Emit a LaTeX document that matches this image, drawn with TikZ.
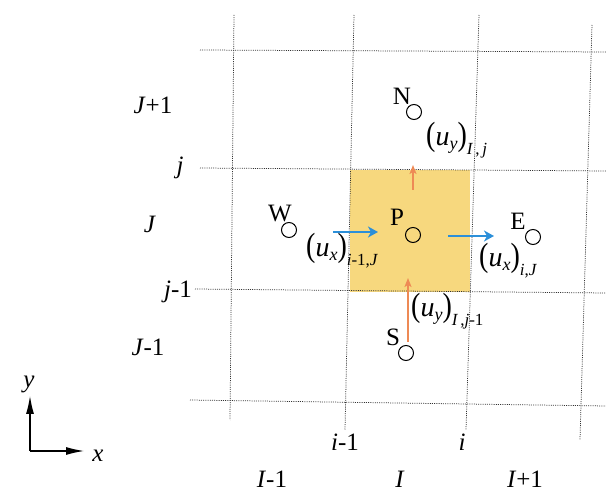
\documentclass[tikz,border=0pt]{standalone}
\usepackage{fontspec}
\setmainfont{Liberation Serif}
\usetikzlibrary{arrows.meta}
\definecolor{cellfill}{HTML}{F7D87E}
\definecolor{flowblue}{HTML}{2B8FD9}
\definecolor{floworange}{HTML}{EE8A55}
\newcommand{\fluxlbl}[2]{\scalebox{1}[1.2]{(}\textit{u}\raisebox{-4pt}{\fontsize{18}{18}\selectfont\textit{#1}}\scalebox{1}[1.2]{)}\raisebox{-9pt}{\fontsize{17}{17}\selectfont #2}}
\tikzset{
  gridline/.style={draw=black!80, line width=0.75pt, dash pattern=on 1pt off 1.2pt},
  nodept/.style={circle, draw=black, line width=1pt, minimum size=15pt, inner sep=0pt},
  ptlbl/.style={font=\fontsize{25}{28}\selectfont, inner sep=0pt},
  idxlbl/.style={font=\fontsize{25}{28}\selectfont, inner sep=0pt},
  fluxtxt/.style={font=\fontsize{28}{30}\selectfont, inner sep=0pt, anchor=west},
  bluearrow/.style={draw=flowblue, line width=2.4pt, -{Stealth[length=10pt,width=11pt,inset=3pt]}},
  orangearrow/.style={draw=floworange, line width=1.4pt, -{Stealth[length=9pt,width=7pt,inset=2pt]}},
  axisarrow/.style={draw=black, line width=1.2pt, -{Latex[length=18pt,width=8pt]}}
}
\begin{document}
\begin{tikzpicture}[x=1pt,y=-1pt]
\useasboundingbox (0,0) rectangle (606,494);
% control volume
\fill[cellfill] (350,170) rectangle (470,292);
% grid
\draw[gridline] (200,50) -- (606,52);
\draw[gridline] (200,168) -- (606,171);
\draw[gridline] (195,289) -- (606,293);
\draw[gridline] (190,400) -- (606,406);
\draw[gridline] (234,15) -- (230,420);
\draw[gridline] (354,15) -- (345,430);
\draw[gridline] (479,15) -- (466,430);
\draw[gridline] (592,25) -- (580,440);
% nodes
\node[nodept] (N) at (414,112) {};
\node[nodept] (P) at (413,235) {};
\node[nodept] (W) at (289,230) {};
\node[nodept] (E) at (533,237) {};
\node[nodept] (S) at (406,353) {};
\node[ptlbl] (Nl) at (402,96) {N};
\node[ptlbl] (Pl) at (397,217) {P};
\node[ptlbl] (Wl) at (280,214) {W};
\node[ptlbl] (El) at (518,221) {E};
\node[ptlbl] (Sl) at (393,337) {S};
% flux arrows
\coordinate (bw1) at (333,232);
\coordinate (bw2) at (378,232);
\coordinate (be1) at (448,236);
\coordinate (be2) at (494,236);
\coordinate (on1) at (413,190);
\coordinate (on2) at (413,165);
\coordinate (os1) at (408,342);
\coordinate (os2) at (408,278);
\draw[bluearrow] (bw1) -- (bw2);
\draw[bluearrow] (be1) -- (be2);
\draw[orangearrow] (on1) -- (on2);
\draw[orangearrow] (os1) -- (os2);
% flux labels
\node[fluxtxt] (fn) at (426,140) {\fluxlbl{y}{\textit{I\,},\,\textit{j}}};
\node[fluxtxt] (fw) at (306,251) {\fluxlbl{x}{\textit{i}-1,\textit{J}}};
\node[fluxtxt] (fe) at (479,261) {\fluxlbl{x}{\textit{i},\textit{J}}};
\node[fluxtxt] (fs) at (411,311) {\fluxlbl{y}{\textit{I\,},\textit{j}-1}};
% index labels
\node[idxlbl] (r1) at (153,105) {\textit{J}+1};
\node[idxlbl] (r2) at (180,168) {\textit{j}};
\node[idxlbl] (r3) at (150,224) {\textit{J}};
\node[idxlbl] (r4) at (178,292) {\textit{j}-1};
\node[idxlbl] (r5) at (148,347) {\textit{J}-1};
\node[idxlbl] (c1) at (345,442) {\textit{i}-1};
\node[idxlbl] (c2) at (462,442) {\textit{i}};
\node[idxlbl] (c3) at (272,479) {\textit{I}-1};
\node[idxlbl] (c4) at (400,479) {\textit{I}};
\node[idxlbl] (c5) at (525,479) {\textit{I}+1};
% axes
\coordinate (O) at (30,451);
\coordinate (ay) at (30,396);
\coordinate (ax) at (84,451);
\draw[axisarrow] (O) -- (ay);
\draw[axisarrow] (O) -- (ax);
\node[idxlbl] (yl) at (29,384) {\textit{y}};
\node[idxlbl] (xl) at (98,456) {\textit{x}};
\end{tikzpicture}
\end{document}
